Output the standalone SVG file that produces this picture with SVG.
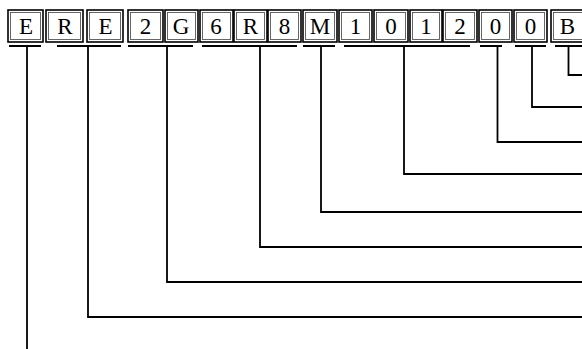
<svg xmlns="http://www.w3.org/2000/svg" width="582" height="349" viewBox="0 0 582 349">
<style>
.o{fill:#fff;stroke:#000;stroke-width:1.6}
.i{fill:none;stroke:#555;stroke-width:0.9}
.t{font-family:"Liberation Serif","Times New Roman",serif;font-size:23px;fill:#000;text-anchor:middle}
.u{stroke:#000;stroke-width:2;fill:none}
.c{stroke:#000;stroke-width:1.8;fill:none}
</style>
<rect width="582" height="349" fill="#fff"/>
<g id="b1"><rect class="o" x="8" y="10" width="35" height="32"/><rect class="i" x="10.5" y="12.5" width="30" height="27"/><text class="t" x="26" y="34">E</text></g>
<g id="b2"><rect class="o" x="46" y="10" width="37" height="32"/><rect class="i" x="48.5" y="12.5" width="32" height="27"/><text class="t" x="65" y="34">R</text></g>
<g id="b3"><rect class="o" x="87" y="10" width="36" height="32"/><rect class="i" x="89.5" y="12.5" width="31" height="27"/><text class="t" x="105.5" y="34">E</text></g>
<g id="b4"><rect class="o" x="128" y="10" width="35" height="32"/><rect class="i" x="130.5" y="12.5" width="30" height="27"/><text class="t" x="145.5" y="34">2</text></g>
<g id="b5"><rect class="o" x="165" y="10" width="33" height="32"/><rect class="i" x="167.5" y="12.5" width="28" height="27"/><text class="t" x="181" y="34">G</text></g>
<g id="b6"><rect class="o" x="200" y="10" width="33" height="32"/><rect class="i" x="202.5" y="12.5" width="28" height="27"/><text class="t" x="216" y="34">6</text></g>
<g id="b7"><rect class="o" x="234" y="10" width="33" height="32"/><rect class="i" x="236.5" y="12.5" width="28" height="27"/><text class="t" x="250.5" y="34">R</text></g>
<g id="b8"><rect class="o" x="268" y="10" width="33" height="32"/><rect class="i" x="270.5" y="12.5" width="28" height="27"/><text class="t" x="284.5" y="34">8</text></g>
<g id="b9"><rect class="o" x="303" y="10" width="34" height="32"/><rect class="i" x="305.5" y="12.5" width="29" height="27"/><text class="t" x="320" y="34">M</text></g>
<g id="b10"><rect class="o" x="339" y="10" width="33" height="32"/><rect class="i" x="341.5" y="12.5" width="28" height="27"/><text class="t" x="355.5" y="34">1</text></g>
<g id="b11"><rect class="o" x="374" y="10" width="34" height="32"/><rect class="i" x="376.5" y="12.5" width="29" height="27"/><text class="t" x="391" y="34">0</text></g>
<g id="b12"><rect class="o" x="410" y="10" width="32" height="32"/><rect class="i" x="412.5" y="12.5" width="27" height="27"/><text class="t" x="426" y="34">1</text></g>
<g id="b13"><rect class="o" x="443" y="10" width="34" height="32"/><rect class="i" x="445.5" y="12.5" width="29" height="27"/><text class="t" x="460" y="34">2</text></g>
<g id="b14"><rect class="o" x="479" y="10" width="33" height="32"/><rect class="i" x="481.5" y="12.5" width="28" height="27"/><text class="t" x="495.5" y="34">0</text></g>
<g id="b15"><rect class="o" x="514" y="10" width="33" height="32"/><rect class="i" x="516.5" y="12.5" width="28" height="27"/><text class="t" x="530.5" y="34">0</text></g>
<g id="b16"><rect class="o" x="551" y="10" width="34" height="32"/><rect class="i" x="553.5" y="12.5" width="29" height="27"/><text class="t" x="567.5" y="34">B</text></g>
<g id="connectors">
<line class="u" x1="9" y1="46" x2="41" y2="46"/>
<line class="u" x1="57" y1="46" x2="121" y2="46"/>
<line class="u" x1="128" y1="46" x2="193" y2="46"/>
<line class="u" x1="202" y1="46" x2="297" y2="46"/>
<line class="u" x1="303" y1="46" x2="335" y2="46"/>
<line class="u" x1="344" y1="46" x2="470" y2="46"/>
<line class="u" x1="480" y1="46" x2="502" y2="46"/>
<line class="u" x1="515" y1="46" x2="546" y2="46"/>
<line class="u" x1="555" y1="46" x2="582" y2="46"/>
<polyline class="c" points="27,46 27,349"/>
<polyline class="c" points="88,46 88,317 582,317"/>
<polyline class="c" points="167,46 167,282 582,282"/>
<polyline class="c" points="260,46 260,247 582,247"/>
<polyline class="c" points="321,46 321,212 582,212"/>
<polyline class="c" points="404,46 404,174 582,174"/>
<polyline class="c" points="497.5,46 497.5,142 582,142"/>
<polyline class="c" points="532,46 532,107 582,107"/>
<polyline class="c" points="568.5,46 568.5,75 582,75"/>
</g>
</svg>
